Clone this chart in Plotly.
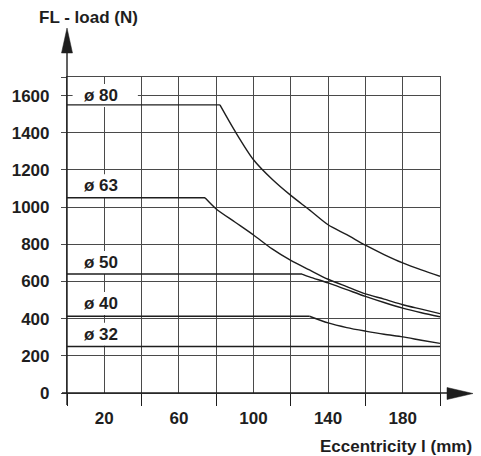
import plotly.graph_objects as go

# ---- data ----
ecc_80 = [0, 82, 90, 100, 110, 120, 130, 140, 150, 160, 170, 180, 190, 200]
load_80 = [1550, 1550, 1410, 1255, 1150, 1063, 985, 905, 852, 795, 745, 700, 662, 628]

ecc_63 = [0, 74, 80, 90, 100, 110, 120, 130, 140, 150, 160, 170, 180, 190, 200]
load_63 = [1050, 1050, 990, 920, 850, 775, 713, 662, 612, 572, 533, 505, 475, 451, 427]

ecc_50 = [0, 126, 130, 140, 150, 160, 170, 180, 190, 200]
load_50 = [640, 640, 625, 592, 556, 520, 487, 457, 432, 410]

ecc_40 = [0, 130, 140, 150, 160, 170, 180, 190, 200]
load_40 = [413, 413, 377, 352, 333, 316, 302, 284, 267]

ecc_32 = [0, 200]
load_32 = [250, 250]

series_names = ["ø 80", "ø 63", "ø 50", "ø 40", "ø 32"]
label_y = [1600, 1115, 702, 482, 316]

x_label_vals = [20, 60, 100, 140, 180]
x_minor_vals = [0, 40, 80, 120, 160, 200]
y_tick_vals = [0, 200, 400, 600, 800, 1000, 1200, 1400, 1600, 1700]
y_tick_text = ["0", "200", "400", "600", "800", "1000", "1200", "1400", "1600", ""]

INK = "#1e1e1e"
GRID = "#4a4a4a"
FONT = "Liberation Sans, Arial, Helvetica, sans-serif"
FS = 17

fig = go.Figure()
for xs, ys, nm in zip([ecc_80, ecc_63, ecc_50, ecc_40, ecc_32],
                      [load_80, load_63, load_50, load_40, load_32],
                      series_names):
    # flat part up to the corner
    fig.add_trace(go.Scatter(x=xs[:2], y=ys[:2], mode="lines", name=nm,
                             line=dict(color=INK, width=1.4),
                             hoverinfo="skip"))
    # falling part from the corner, smoothed
    if len(xs) > 2:
        fig.add_trace(go.Scatter(x=xs[1:], y=ys[1:], mode="lines", name=nm,
                                 line=dict(color=INK, width=1.4,
                                           shape="spline", smoothing=0.8),
                                 hoverinfo="skip"))

# plot area in pixels: x 67..440, y 77..393
L, R, T, B = 67, 440, 77, 393
W, H = R - L, B - T
def px(x):
    return (x - L) / W
def py(y):
    return (B - y) / H

shapes = []
# white label backgrounds (above grid, below traces)
for ly in label_y:
    shapes.append(dict(type="rect", xref="x", yref="y", layer="between",
                       x0=3, x1=38, y0=ly - 62, y1=ly + 62,
                       fillcolor="white", line=dict(width=0)))
# y-axis extension with arrow
shapes.append(dict(type="line", xref="paper", yref="paper",
                   x0=px(67), x1=px(67), y0=py(405), y1=py(50),
                   line=dict(color=INK, width=1.4)))
shapes.append(dict(type="path", xref="paper", yref="paper",
                   path=f"M {px(61.5)},{py(53)} L {px(67)},{py(28)} L {px(72.5)},{py(53)} Z",
                   fillcolor=INK, line=dict(color=INK, width=0.5)))
# x-axis extension with arrow
shapes.append(dict(type="line", xref="paper", yref="paper",
                   x0=px(62), x1=px(450), y0=py(393), y1=py(393),
                   line=dict(color=INK, width=1.4)))
shapes.append(dict(type="path", xref="paper", yref="paper",
                   path=f"M {px(447)},{py(387.5)} L {px(473)},{py(393.5)} L {px(447)},{py(399.5)} Z",
                   fillcolor=INK, line=dict(color=INK, width=0.5)))

annotations = []
for nm, ly in zip(series_names, label_y):
    annotations.append(dict(x=8, y=ly, xref="x", yref="y", text=nm,
                            showarrow=False, xanchor="left", yanchor="middle",
                            font=dict(family=FONT, size=FS, color=INK, weight="bold")))
annotations.append(dict(x=px(88), y=py(18), xref="paper", yref="paper",
                        text="FL - load (N)", showarrow=False,
                        xanchor="center", yanchor="middle",
                        font=dict(family=FONT, size=FS, color=INK, weight="bold")))
annotations.append(dict(x=px(474), y=py(446), xref="paper", yref="paper",
                        text="Eccentricity l (mm)", showarrow=False,
                        xanchor="right", yanchor="middle",
                        font=dict(family=FONT, size=FS, color=INK, weight="bold")))

fig.update_layout(
    width=481, height=456,
    margin=dict(l=L, r=481 - R, t=T, b=456 - B, pad=0),
    paper_bgcolor="white", plot_bgcolor="white",
    showlegend=False,
    shapes=shapes, annotations=annotations,
    xaxis=dict(range=[0, 200], tickvals=x_label_vals,
               ticks="", showgrid=True, gridcolor=GRID, gridwidth=1.2,
               ticklabelstandoff=9,
               tickfont=dict(family=FONT, size=FS, color=INK, weight="bold"),
               minor=dict(tickvals=x_minor_vals, ticks="outside", ticklen=12,
                          tickcolor=INK, tickwidth=1.4, showgrid=True,
                          gridcolor=GRID, gridwidth=1.2),
               showline=True, mirror=True, linecolor=GRID, linewidth=1.2,
               zeroline=False, fixedrange=True),
    yaxis=dict(range=[0, 1700], tickvals=y_tick_vals, ticktext=y_tick_text,
               ticks="outside", ticklen=5, tickcolor=GRID, tickwidth=1.2,
               showgrid=True, gridcolor=GRID, gridwidth=1.2,
               ticklabelstandoff=8,
               tickfont=dict(family=FONT, size=FS, color=INK, weight="bold"),
               showline=True, mirror=True, linecolor=GRID, linewidth=1.2,
               zeroline=False, fixedrange=True),
)

fig.write_html("out.html", config={"displayModeBar": False},
               post_script="document.body.style.margin='0';document.body.style.overflow='hidden';")
